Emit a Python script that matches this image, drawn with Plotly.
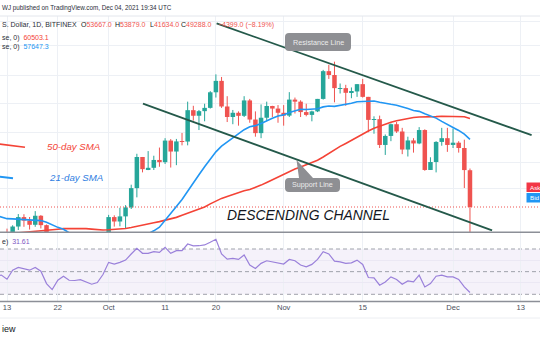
import math
import pandas as pd
import plotly.graph_objects as go

W, H = 540, 340

# ---------------- data ----------------
dates = pd.date_range("2021-09-12", "2021-12-04", freq="D")
opens = [45160, 46060, 44960, 47110, 48150, 47760, 47300, 48300, 47260, 42990,
         40700, 43590, 44880, 42830, 42720, 43190, 42200, 41030, 41520,
         43800, 48150, 47660, 48230, 49240, 51490, 55340, 53800, 53970, 54960,
         54680, 57480, 56040, 57370, 57350, 61670, 60880, 61530, 62000, 64280,
         66000, 62200, 60700, 61300, 60870, 63080, 60350, 58480, 60600, 62270, 61900,
         61300, 60900, 63200, 62900, 61400, 61000, 61500, 63300, 67500, 66900,
         64900, 64900, 64200, 64400, 65500, 63600, 60300, 60400, 56900, 58100,
         59700, 58700, 56300, 57500, 57100, 58900, 53700, 54700, 57300, 57800,
         56900, 57200, 56500, 53667]
highs = [46440, 46880, 47250, 48490, 48470, 48160, 48820, 48370, 47330, 43620,
         44000, 44980, 45000, 42960, 43900, 44350, 42780, 42600, 44100,
         48400, 48350, 49200, 49500, 51900, 55750, 55340, 56100, 55500, 56560,
         57800, 57680, 57700, 58500, 62900, 62300, 61700, 62600, 64450, 67000,
         66600, 63700, 61700, 61500, 63700, 63300, 61500, 62500, 62900, 62300, 62400,
         62400, 64300, 63500, 63100, 62600, 61600, 63300, 67700, 68500, 69000,
         65600, 65400, 65000, 65500, 66300, 63600, 60800, 60900, 58300, 59800,
         60000, 59200, 58000, 57800, 59300, 59000, 55300, 57400, 59200, 59200,
         59100, 57400, 57600, 53879]
lows = [44750, 43370, 44700, 46730, 47080, 46780, 47080, 46900, 42500, 39600,
        40600, 43090, 40900, 41700, 40800, 42100, 40900, 40780, 41430,
        43300, 47100, 47130, 46900, 49060, 50400, 53400, 53680, 53700, 54100,
        54450, 54000, 54300, 56850, 56850, 60200, 58900, 60100, 61900, 63500,
        62000, 60000, 59700, 59500, 60700, 59900, 58000, 57800, 60200, 60700, 59900,
        59500, 60700, 61200, 60700, 60800, 60100, 61400, 63200, 66300, 62800,
        64100, 62300, 63400, 63600, 63500, 58600, 58400, 56500, 55600, 57400,
        58500, 55700, 55400, 55900, 57000, 53600, 53700, 53400, 56800, 56000,
        56500, 55900, 51500, 41634]
closes = [46060, 44960, 47110, 48150, 47760, 47300, 48300, 47260, 42990, 40700,
          43590, 44880, 42830, 42720, 43190, 42200, 41030, 41520, 43800,
          48150, 47660, 48230, 49240, 51490, 55340, 53800, 53970, 54960, 54680,
          57480, 56040, 57370, 57350, 61670, 60880, 61530, 62000, 64280, 66000,
          62200, 60700, 61300, 60870, 63080, 60350, 58480, 60600, 62270, 61900, 61300,
          60900, 63200, 62900, 61400, 61000, 61500, 63300, 67500, 66900, 64900,
          64900, 64200, 64400, 65500, 63600, 60300, 60400, 56900, 58100, 59700,
          58700, 56300, 57500, 57100, 58900, 53700, 54700, 57300, 57800, 56900,
          57200, 56500, 53687, 49288]

ind_dates = pd.date_range("2021-09-11", "2021-12-04", freq="D")
sma50 = [46200, 46250, 46300, 46350, 46400, 46450, 46500, 46560, 46620, 46700,
         46760, 46820, 46880, 46900, 46910, 46900, 46880, 46830, 46770, 46740,
         46760, 46790, 46830, 46900, 47000, 47150, 47300, 47420, 47530, 47650,
         47800, 47950, 48120, 48350, 48600, 48800, 49050, 49300, 49650, 50010,
         50280, 50500, 50730, 50950, 51180, 51330, 51560, 51850, 52170, 52510,
         52830, 53130, 53490, 53810, 54070, 54340, 54620, 54920, 55330, 55800,
         56290, 56710, 57100, 57530, 57990, 58390, 58760, 59140, 59450, 59740,
         59970, 60190, 60350, 60520, 60630, 60700, 60700, 60710, 60760, 60820,
         60810, 60830, 60810, 60740, 60503.1]
sma21 = [48348, 48193, 47977, 47949, 47913, 47954, 47873, 47835, 47762, 47571,
         47266, 47018, 46808, 46466, 46124, 45714, 45214, 44935, 44717, 44593,
         44748, 44865, 44968, 45172, 45380, 45723, 46010, 46328, 46645, 47030,
         47750, 48550, 49350, 50150, 51150, 52150, 53100, 54100, 55100, 56000,
         56750, 57300, 57850, 58350, 58950, 59350, 59500, 59800, 60195, 60525,
         60840, 61003, 61344, 61608, 61800, 61769, 61798, 61882, 62144, 62269,
         62217, 62345, 62512, 62660, 62880, 62905, 62902, 62994, 62818, 62619,
         62514, 62390, 62171, 61900, 61624, 61505, 61157, 60833, 60548, 60086,
         59610, 59243, 58843, 58338, 57647.3]
rsi14 = [45.5, 47.0, 43.3, 51.3, 53.7, 52.5, 51.3, 53.7, 50.4, 39.5,
         34.2, 42.4, 46.0, 42.4, 42.2, 43.0, 41.0, 38.9, 40.4, 47.5,
         58.2, 56.7, 58.2, 60.2, 65.6, 70.6, 66.2, 66.2, 67.6, 67.0,
         71.5, 66.2, 68.5, 68.5, 74.4, 72.7, 72.9, 73.6, 76.0, 78.6,
         65.6, 61.1, 61.7, 60.8, 64.7, 55.8, 52.8, 57.3, 59.6, 58.7,
         57.8, 56.7, 60.8, 59.6, 55.8, 54.3, 56.4, 60.8, 67.6, 65.6,
         59.3, 58.7, 57.3, 57.8, 60.2, 56.4, 44.8, 44.5, 38.0, 40.9,
         45.4, 43.1, 38.9, 41.8, 40.9, 46.9, 36.5, 39.5, 46.0, 46.9,
         45.4, 45.4, 43.1, 36.5, 31.61]

tick_dates = ["2021-09-13", "2021-09-22", "2021-10-01", "2021-10-11", "2021-10-20",
              "2021-11-01", "2021-11-15", "2021-12-01", "2021-12-13"]
tick_labels = ["13", "22", "Oct", "11", "20", "Nov", "15", "Dec", "13"]

price_grid = [51500, 54700, 58600, 62700, 66900, 71700, 75800]
rsi_grid = [40, 60]
rsi_levels = [70, 50, 30]

resistance_x = ["2021-10-20 03:00", "2021-12-14 22:00"]
resistance_y = [75400, 58200]
support_x = ["2021-10-07 02:00", "2021-12-07 22:00"]
support_y = [62600, 46700]

x_range = ["2021-09-11 18:15", "2021-12-16 09:40"]
price_range = [46517, 76693]
rsi_range = [24.08, 84.13]

# ---------------- styles ----------------
UP = "#26a69a"
DOWN = "#ef5350"
SMA50_C = "#f44336"
SMA21_C = "#2196f3"
TREND_C = "#24594a"
RSI_C = "#9a80da"
GRID = "#edf0f5"
TXT = "#131722"
FONT = "Liberation Sans, Arial, sans-serif"
DAY_MS = 86400000


def px(x):
    return x / W


def py(y):
    return 1 - y / H


fig = go.Figure()

# candle bodies and wicks
up_idx = [i for i in range(len(dates)) if closes[i] >= opens[i]]
dn_idx = [i for i in range(len(dates)) if closes[i] < opens[i]]
for idx, col in ((up_idx, UP), (dn_idx, DOWN)):
    wx, wy = [], []
    for i in idx:
        wx += [dates[i], dates[i], None]
        wy += [lows[i], highs[i], None]
    fig.add_trace(go.Scatter(x=wx, y=wy, mode="lines", line=dict(color=col, width=1),
                             hoverinfo="skip", showlegend=False, xaxis="x", yaxis="y"))
    fig.add_trace(go.Bar(
        x=[dates[i] for i in idx],
        base=[min(opens[i], closes[i]) for i in idx],
        y=[max(abs(closes[i] - opens[i]), 1) for i in idx],
        width=0.8 * DAY_MS, marker=dict(color=col, line=dict(width=0)),
        showlegend=False, hoverinfo="skip", xaxis="x", yaxis="y"))

# current price dotted line
fig.add_trace(go.Scatter(x=x_range, y=[closes[-1], closes[-1]], mode="lines",
                         line=dict(color=DOWN, width=1, dash="1px,2px"),
                         hoverinfo="skip", showlegend=False, xaxis="x", yaxis="y"))
# moving averages
fig.add_trace(go.Scatter(x=ind_dates, y=sma50, mode="lines", line=dict(color=SMA50_C, width=1.6),
                         showlegend=False, xaxis="x", yaxis="y"))
fig.add_trace(go.Scatter(x=ind_dates, y=sma21, mode="lines", line=dict(color=SMA21_C, width=1.6),
                         showlegend=False, xaxis="x", yaxis="y"))
# channel lines
fig.add_trace(go.Scatter(x=resistance_x, y=resistance_y, mode="lines", line=dict(color=TREND_C, width=1.8),
                         showlegend=False, xaxis="x", yaxis="y"))
fig.add_trace(go.Scatter(x=support_x, y=support_y, mode="lines", line=dict(color=TREND_C, width=1.8),
                         showlegend=False, xaxis="x", yaxis="y"))
# RSI
fig.add_trace(go.Scatter(x=ind_dates, y=rsi14, mode="lines", line=dict(color=RSI_C, width=1.2),
                         showlegend=False, xaxis="x", yaxis="y2"))

# ---------------- shapes ----------------
shapes = []
shapes.append(dict(type="rect", xref="paper", yref="y2", x0=0, x1=1, y0=30, y1=70,
                   fillcolor="rgba(126,87,194,0.08)", line=dict(width=0), layer="below"))
for lv in rsi_levels:
    shapes.append(dict(type="line", xref="paper", yref="y2", x0=0, x1=1, y0=lv, y1=lv,
                       line=dict(color="#9fa2ab", width=1, dash="4px,3px"), layer="between"))


def hline(y, color, width):
    return dict(type="line", xref="paper", yref="paper", x0=0, x1=1, y0=py(y), y1=py(y),
                line=dict(color=color, width=width))


shapes.append(hline(16, "#e3e6ec", 1))
shapes.append(hline(232.2, "#8c8f97", 1.6))
shapes.append(hline(301.5, "#8c8f97", 1.4))
shapes.append(hline(318, "#eceef2", 1))

# drawn pointer segments for the SMA labels
shapes.append(dict(type="line", xref="paper", yref="paper", x0=px(-1), y0=py(144), x1=px(25), y1=py(147.3),
                   line=dict(color=SMA50_C, width=1.6)))
shapes.append(dict(type="line", xref="paper", yref="paper", x0=px(-1), y0=py(176.7), x1=px(13), y1=py(178.3),
                   line=dict(color=SMA21_C, width=2)))


def rpath(x0, y0, x1, y1, r, pointer=None):
    rx, ry = r / W, r / H
    X0, X1, Y0, Y1 = px(x0), px(x1), py(y0), py(y1)
    s = f"M {X0 + rx},{Y0} "
    if pointer:
        (bl, tipx, tipy, br) = pointer
        s += f"L {px(bl)},{Y0} L {px(tipx)},{py(tipy)} L {px(br)},{Y0} "
    s += f"L {X1 - rx},{Y0} Q {X1},{Y0} {X1},{Y0 - ry} "
    s += f"L {X1},{Y1 + ry} Q {X1},{Y1} {X1 - rx},{Y1} "
    s += f"L {X0 + rx},{Y1} Q {X0},{Y1} {X0},{Y1 + ry} "
    s += f"L {X0},{Y0 - ry} Q {X0},{Y0} {X0 + rx},{Y0} Z"
    return s


CALLOUT = "#8e8f93"
shapes.append(dict(type="path", xref="paper", yref="paper", path=rpath(285, 33, 351, 51, 4),
                   fillcolor=CALLOUT, line=dict(width=0)))
shapes.append(dict(type="path", xref="paper", yref="paper",
                   path=rpath(285, 178, 340, 192, 4, pointer=(299, 296.5, 160, 313)),
                   fillcolor=CALLOUT, line=dict(width=0)))
# Ask / Bid tags
shapes.append(dict(type="rect", xref="paper", yref="paper", x0=px(526.5), x1=px(542), y0=py(182.5), y1=py(192),
                   fillcolor="#f23645", line=dict(width=0)))
shapes.append(dict(type="rect", xref="paper", yref="paper", x0=px(526.5), x1=px(542), y0=py(193), y1=py(202.5),
                   fillcolor="#2196f3", line=dict(width=0)))

# ---------------- annotations ----------------
ann = []


def text(x, y, s, size=7.0, color=TXT, anchor="left", family=FONT):
    ann.append(dict(x=px(x), y=py(y), xref="paper", yref="paper", text=s, showarrow=False,
                    xanchor=anchor, yanchor="middle", font=dict(size=size, color=color, family=family)))


def red(s):
    return f"<span style='color:{DOWN}'>{s}</span>"


text(0, 8.3, "WJ published on TradingView.com, Dec 04, 2021 19:34 UTC", size=6.3, color="#2a2e39")
text(-0.5, 25, "S. Dollar, 1D, BITFINEX", color="#2a2e39")
chg = closes[-1] - closes[-2]
pct = chg / closes[-2] * 100
text(78.5, 25, "O" + red(f"{opens[-1]:.1f}"))
text(112.5, 25, "H" + red(f"{highs[-1]:.1f}"))
text(147.5, 25, "L" + red(f"{lows[-1]:.1f}"))
text(178.5, 25, "C" + red(f"{closes[-1]:.1f}"))
text(215.5, 25, red(f"\u2212{abs(chg):.1f} (\u2212{abs(pct):.2f}%)"))
text(0, 38, "se, 0)  " + f"<span style='color:{SMA50_C}'>{sma50[-1]:.1f}</span>", color="#2a2e39")
text(0, 47, "se, 0)  " + f"<span style='color:{SMA21_C}'>{sma21[-1]:.1f}</span>", color="#2a2e39")
text(0, 242.3, "e)  " + f"<span style='color:#7e57c2'>{rsi14[-1]:.2f}</span>", color="#2a2e39")

text(45, 146, "<i>50-day SMA</i>", size=9.7, color=SMA50_C)
text(47, 177.5, "<i>21-day SMA</i>", size=9.7, color="#2f7de1")
text(225, 215, "<i>DESCENDING CHANNEL</i>", size=13.9, color=TXT)

text(318, 42, "Resistance Line", size=7.2, color="#ececec", anchor="center")
text(312.5, 185, "Support Line", size=7.2, color="#ececec", anchor="center")
text(527.5, 187.3, "Ask", size=6.2, color="#ffffff")
text(527.5, 197.8, "Bid", size=6.2, color="#ffffff")
text(0, 329, "iew", size=9, color="#131722")

fig.update_layout(
    width=W, height=H, margin=dict(l=0, r=0, t=0, b=0),
    paper_bgcolor="white", plot_bgcolor="white",
    barmode="overlay", showlegend=False,
    shapes=shapes, annotations=ann,
    xaxis=dict(type="date", range=x_range, domain=[0, 1], anchor="y2",
               tickvals=tick_dates, ticktext=tick_labels, showgrid=True, gridcolor=GRID, gridwidth=1,
               ticks="", showline=False, zeroline=False,
               tickfont=dict(size=7.6, color="#4a4f5c", family=FONT)),
    yaxis=dict(type="log", domain=[py(232), py(16)],
               range=[math.log10(price_range[0]), math.log10(price_range[1])],
               tickvals=price_grid, showticklabels=False, showgrid=True, gridcolor=GRID,
               zeroline=False, showline=False, ticks=""),
    yaxis2=dict(domain=[py(301), py(233)], range=rsi_range, tickvals=rsi_grid,
                showticklabels=False, showgrid=True, gridcolor="#ebe8f4", zeroline=False,
                showline=False, ticks=""),
)

fig.write_html("out.html")
